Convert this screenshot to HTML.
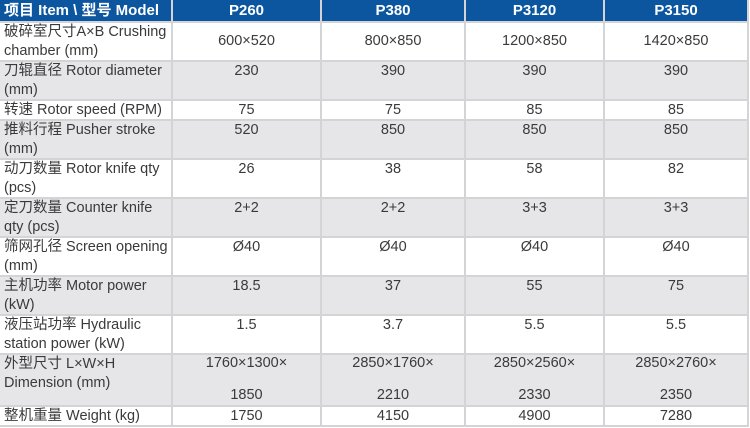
<!DOCTYPE html>
<html><head><meta charset="utf-8"><style>
body{margin:0;width:750px;height:428px;background:#fff;overflow:hidden;font-family:"Liberation Sans","Noto Sans CJK SC",sans-serif;color:#3a3a3a;font-size:14.5px}
.g{position:absolute;left:0;top:0;display:grid;grid-template-columns:171px 147px 142px 137px 142px;grid-template-rows:21px 37px 37px 18px 37px 37px 37px 37px 37px 37px 50px 18px;gap:2px;padding:0 2px 2px 0;background:#d4d4d6}
.g>div{background:#fff;text-align:center;line-height:18.5px;overflow:hidden;white-space:nowrap}
.g>div.l{text-align:left;padding-left:4px;white-space:normal}
.h{background:#0c56a0!important;color:#fff;font-weight:bold;font-size:15px;line-height:21px!important}
.s{background:#e6e6e8!important}
.m{display:flex;align-items:center;justify-content:center}
</style></head><body>
<div class="g">
<div class="h l">项目 Item \ 型号 Model</div><div class="h">P260</div><div class="h">P380</div><div class="h">P3120</div><div class="h">P3150</div>
<div class="l">破碎室尺寸A×B Crushing chamber (mm)</div><div class="m">600×520</div><div class="m">800×850</div><div class="m">1200×850</div><div class="m">1420×850</div>
<div class="l s">刀辊直径 Rotor diameter (mm)</div><div class="s">230</div><div class="s">390</div><div class="s">390</div><div class="s">390</div>
<div class="l">转速 Rotor speed (RPM)</div><div>75</div><div>75</div><div>85</div><div>85</div>
<div class="l s">推料行程 Pusher stroke (mm)</div><div class="s">520</div><div class="s">850</div><div class="s">850</div><div class="s">850</div>
<div class="l">动刀数量 Rotor knife qty (pcs)</div><div>26</div><div>38</div><div>58</div><div>82</div>
<div class="l s">定刀数量 Counter knife qty (pcs)</div><div class="s">2+2</div><div class="s">2+2</div><div class="s">3+3</div><div class="s">3+3</div>
<div class="l">筛网孔径 Screen opening (mm)</div><div>Ø40</div><div>Ø40</div><div>Ø40</div><div>Ø40</div>
<div class="l s">主机功率 Motor power (kW)</div><div class="s">18.5</div><div class="s">37</div><div class="s">55</div><div class="s">75</div>
<div class="l">液压站功率 Hydraulic station power (kW)</div><div>1.5</div><div>3.7</div><div>5.5</div><div>5.5</div>
<div class="l s">外型尺寸 L×W×H Dimension (mm)</div><div class="s" style="line-height:16px">1760×1300×<br><br>1850</div><div class="s" style="line-height:16px">2850×1760×<br><br>2210</div><div class="s" style="line-height:16px">2850×2560×<br><br>2330</div><div class="s" style="line-height:16px">2850×2760×<br><br>2350</div>
<div class="l">整机重量 Weight (kg)</div><div>1750</div><div>4150</div><div>4900</div><div>7280</div>
</div>
</body></html>
